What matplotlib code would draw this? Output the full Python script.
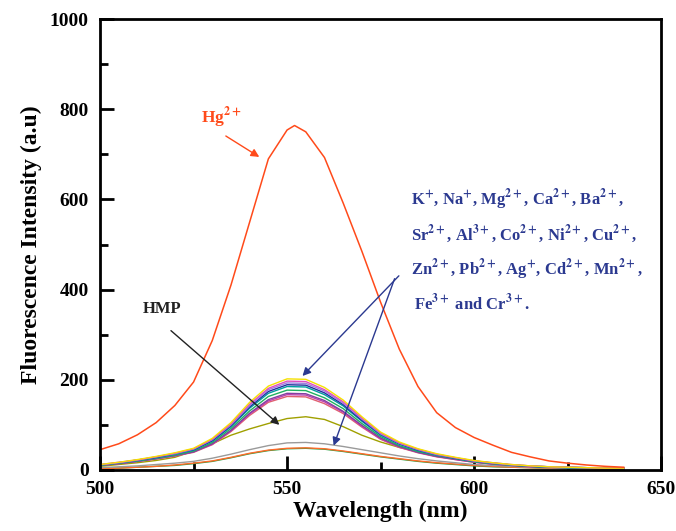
import numpy as np
import matplotlib.pyplot as plt

plt.rcParams['font.family'] = 'serif'
plt.rcParams['font.serif'] = ['Liberation Serif', 'DejaVu Serif']
plt.rcParams['font.weight'] = 'bold'
plt.rcParams['mathtext.fontset'] = 'stix'
plt.rcParams['mathtext.default'] = 'bf'

# wavelength grid (nm), 5 nm steps
wl = [500, 505, 510, 515, 520, 525, 530, 535, 540, 545, 550, 555, 560, 565, 570,
      575, 580, 585, 590, 595, 600, 605, 610, 615, 620, 625, 630, 635, 640]

# Hg2+ spectrum has one extra point at its maximum
hg_wl = [500, 505, 510, 515, 520, 525, 530, 535, 540, 545, 550, 552, 555, 560, 565, 570,
         575, 580, 585, 590, 595, 600, 605, 610, 615, 620, 625, 630, 635, 640]
hg = [45, 58, 78, 105, 143, 195, 287, 410, 550, 690, 754, 764, 750, 693, 592, 485,
      372, 268, 185, 127, 94, 72, 55, 39, 29, 20, 15, 11, 8, 6]

# cluster of the other metal ions (top to bottom at the peak)
yellow   = [12, 17, 23, 30, 38, 48, 70, 105, 150, 186, 202, 201, 183, 155, 118, 84, 62, 47, 36, 28, 21, 16, 12, 9, 7, 6, 5, 4, 4]
pink     = [12, 17, 22, 29, 37, 47, 68, 102, 146, 181, 197, 196, 178, 151, 115, 82, 60, 46, 35, 27, 20, 16, 12, 9, 7, 6, 5, 4, 4]
violet   = [11, 16, 22, 29, 36, 46, 67, 100, 143, 178, 193, 192, 175, 148, 113, 80, 59, 45, 34, 27, 20, 15, 11, 9, 7, 6, 5, 4, 4]
navy     = [11, 16, 22, 28, 36, 45, 65, 98, 140, 174, 189, 188, 171, 145, 110, 79, 58, 44, 34, 26, 20, 15, 11, 8, 7, 6, 5, 4, 4]
teal     = [11, 16, 21, 27, 35, 44, 64, 96, 137, 170, 185, 184, 167, 142, 108, 77, 57, 43, 33, 26, 19, 15, 11, 8, 6, 5, 5, 4, 4]
green    = [10, 15, 20, 26, 33, 42, 61, 92, 131, 163, 177, 176, 160, 136, 103, 74, 54, 41, 32, 25, 18, 14, 10, 8, 6, 5, 4, 4, 3]
purple   = [10, 14, 19, 25, 32, 40, 58, 88, 126, 156, 170, 169, 154, 130, 99, 71, 52, 39, 30, 24, 18, 13, 10, 8, 6, 5, 4, 3, 3]
magenta  = [10, 14, 19, 25, 31, 40, 57, 87, 124, 153, 167, 166, 151, 128, 97, 69, 51, 39, 30, 23, 17, 13, 10, 7, 6, 5, 4, 3, 3]
pinkred  = [10, 14, 19, 24, 31, 39, 56, 85, 121, 150, 163, 162, 147, 125, 95, 68, 50, 38, 29, 23, 17, 13, 10, 7, 6, 5, 4, 3, 3]

# HMP and the quenching ions
hmp      = [8, 12, 16, 21, 28, 42, 58, 77, 91, 103, 114, 118, 112, 96, 77, 62, 50, 40, 32, 24, 18, 14, 11, 9, 7, 6, 5, 4, 4]
grey     = [5, 7, 9, 12, 15, 19, 26, 35, 45, 54, 60, 61, 58, 52, 45, 38, 31, 25, 20, 16, 12, 10, 8, 6, 5, 4, 4, 3, 3]
orange   = [3, 4, 6, 8, 11, 15, 20, 28, 37, 44, 48, 49, 47, 42, 36, 30, 25, 20, 16, 13, 10, 8, 6, 5, 4, 3, 3, 2, 2]
green2   = [3, 4, 6, 8, 10, 14, 19, 27, 36, 43, 47, 48, 46, 41, 35, 29, 24, 19, 15, 12, 9, 7, 6, 5, 4, 3, 3, 2, 2]

fig = plt.figure(figsize=(6.76, 5.31), dpi=100)
ax = fig.add_axes([0.148, 0.115, 0.830, 0.849])

series = [
    (green2, '#20a040'), (orange, '#ff6a2a'), (grey, '#9a9a9a'), (hmp, '#a0a000'),
    (pinkred, '#e06070'), (magenta, '#c040b0'), (purple, '#8040a0'),
    (green, '#20b060'), (teal, '#00a0a0'), (navy, '#1f2f9f'),
    (violet, '#a080e0'), (pink, '#e050c0'), (yellow, '#f5e000'),
]
for ys, col in series:
    ax.plot(wl, ys, color=col, lw=1.0)
ax.plot(hg_wl, hg, color='#ff4a1a', lw=1.1)

ax.set_xlim(500, 650)
ax.set_ylim(0, 1000)
ax.set_xticks([500, 550, 600, 650])
ax.set_xticks([525, 575, 625], minor=True)
ax.set_yticks([0, 200, 400, 600, 800, 1000])
ax.set_yticks([100, 300, 500, 700, 900], minor=True)
ax.tick_params(which='both', direction='in', width=2, labelsize=14, top=False, right=False)
ax.tick_params(which='major', length=10, pad=8)
ax.tick_params(which='minor', length=6)
for s in ax.spines.values():
    s.set_linewidth(2)

ax.set_xlabel('Wavelength (nm)', fontsize=17, fontweight='bold', labelpad=2)
ax.set_ylabel('Fluorescence Intensity (a.u)', fontsize=17, fontweight='bold', labelpad=6)

# annotations
hgc = '#ff4a1a'
ax.text(527, 771, 'Hg$^{2+}$', color=hgc, fontsize=12.5, fontweight='bold', va='baseline')
ax.annotate('', xy=(543.2, 691), xytext=(533, 744),
            arrowprops=dict(arrowstyle='-|>', color=hgc, lw=1, mutation_scale=12))

ax.text(511.5, 348, 'HMP', color='#222222', fontsize=12, fontweight='bold', va='baseline')
ax.annotate('', xy=(548.5, 96), xytext=(518.4, 313),
            arrowprops=dict(arrowstyle='-|>', color='#222222', lw=1, mutation_scale=12))

bc = '#2b3990'
lines = [
    (583.0, 589, 'K$^{+}$, Na$^{+}$, Mg$^{2+}$, Ca$^{2+}$, Ba$^{2+}$,'),
    (583.0, 511, 'Sr$^{2+}$, Al$^{3+}$, Co$^{2+}$, Ni$^{2+}$, Cu$^{2+}$,'),
    (583.0, 433, 'Zn$^{2+}$, Pb$^{2+}$, Ag$^{+}$, Cd$^{2+}$, Mn$^{2+}$,'),
    (583.8, 356, 'Fe$^{3+}$ and Cr$^{3+}$.'),
]
for x, y, t in lines:
    ax.text(x, y, t, color=bc, fontsize=12, fontweight='bold', va='baseline')
ax.annotate('', xy=(553.6, 204), xytext=(580.4, 435),
            arrowprops=dict(arrowstyle='-|>', color=bc, lw=1, mutation_scale=12))
ax.annotate('', xy=(562.2, 48), xytext=(579.0, 430),
            arrowprops=dict(arrowstyle='-|>', color=bc, lw=1, mutation_scale=12))

fig.savefig('out.png', dpi=100)
